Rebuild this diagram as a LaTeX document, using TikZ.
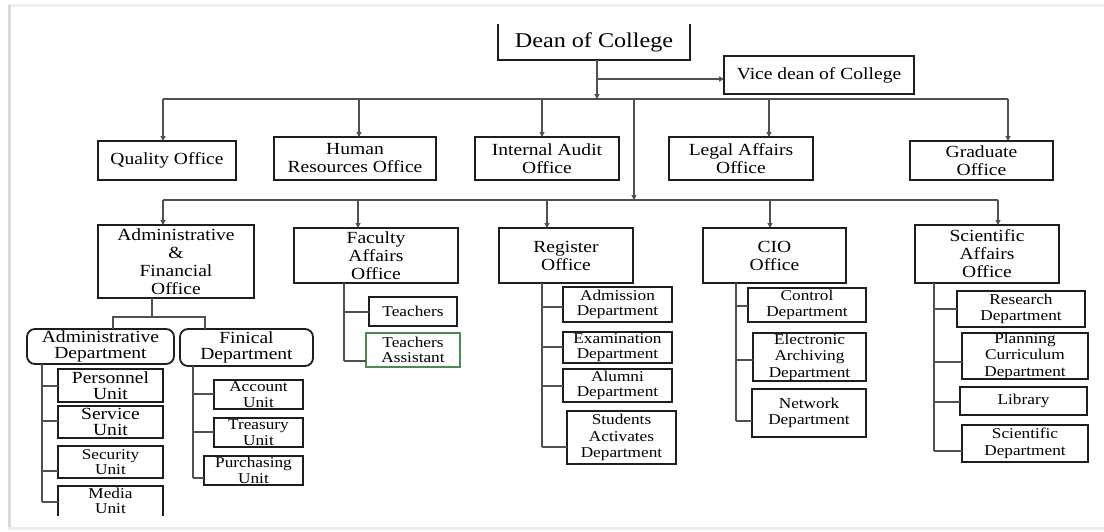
\documentclass[tikz,border=0pt]{standalone}
\usepackage{fontspec}
\setmainfont{Liberation Serif}[FakeStretch=1.15]
\usetikzlibrary{arrows.meta}
\definecolor{tagreen}{HTML}{4E8A4E}
\definecolor{boxline}{HTML}{1E1E1E}
\definecolor{connline}{HTML}{505050}
\newcommand\mybox[8][]{%
 \pgfmathsetmacro\bxcx{(#3+#5)/2}%
 \pgfmathsetmacro\bxcy{(#4+#6)/2}%
 \pgfmathsetmacro\bxw{#5-#3}%
 \pgfmathsetmacro\bxh{#6-#4}%
 \node[box,minimum width=\bxw pt,minimum height=\bxh pt,#1] (#2) at (\bxcx,\bxcy) {};%
 \node[#7] (#2-t) at (#2.center) {#8};}
\begin{document}
\begin{tikzpicture}[x=1pt,y=-1pt,
 box/.style={draw=boxline,line width=1.8pt,inner sep=0pt,outer sep=0pt},
 rbox/.style={rounded corners=8pt},
 tabox/.style={draw=tagreen,line width=1.3pt},
 tD/.style={align=center,inner sep=0pt,font={\fontsize{21}{22}\selectfont}},
 tB/.style={align=center,inner sep=0pt,font={\fontsize{17}{18}\selectfont}},
 tBs/.style={align=center,inner sep=0pt,font={\fontsize{17}{15.5}\selectfont}},
 tS/.style={align=center,inner sep=0pt,font={\fontsize{15}{15.5}\selectfont}},
 tS3/.style={align=center,inner sep=0pt,font={\fontsize{15}{16.5}\selectfont}},
 conn/.style={draw=connline,line width=1.1pt},
 arr/.style={conn,-{Triangle[length=5pt,width=5pt]}}]
\useasboundingbox (0,0) rectangle (1104,531);
% page frame
\fill[gray!12] (8,4) rectangle (1104,7);
\fill[gray!30] (8,5) rectangle (11,529);
\fill[gray!15] (8,527) rectangle (1104,530);
% top level
\mybox[draw=none]{dean}{498}{25}{690}{60}{tD}{Dean of College}
\draw[box,line cap=rect] (dean.north west) -- (dean.south west) -- (dean.south east) -- (dean.north east);
\mybox{vice}{724}{56}{914}{94}{tB}{Vice dean of College}
\mybox{quality}{98}{141}{236}{180}{tB}{Quality Office}
\mybox{hr}{274}{137}{436}{180}{tB}{Human\\Resources Office}
\mybox{audit}{475}{137}{619}{180}{tB}{Internal Audit\\Office}
\mybox{legal}{669}{137}{813}{180}{tB}{Legal Affairs\\Office}
\mybox{grad}{910}{141}{1053}{180}{tB}{Graduate\\Office}
% second level
\mybox{adm}{98}{225}{254}{298}{tB}{Administrative\\\&\\Financial\\Office}
\mybox{fac}{294}{228}{458}{283}{tB}{Faculty\\Affairs\\Office}
\mybox{reg}{499}{228}{633}{283}{tB}{Register\\Office}
\mybox{cio}{703}{228}{846}{283}{tB}{CIO\\Office}
\mybox{sci}{915}{225}{1059}{283}{tB}{Scientific\\Affairs\\Office}
% admin & financial sub
\mybox[rbox]{admd}{27}{329}{174}{364}{tBs}{Administrative\\Department}
\mybox[rbox]{find}{180}{329}{313}{366}{tBs}{Finical\\Department}
\mybox{pers}{58}{369}{163}{402}{tBs}{Personnel\\Unit}
\mybox{serv}{58}{406}{163}{438}{tBs}{Service\\Unit}
\mybox{secu}{58}{446}{163}{478}{tS}{Security\\Unit}
\mybox[draw=none]{media}{58}{486}{163}{516}{tS}{Media\\Unit}
\draw[box] (media.south west) -- (media.north west) -- (media.north east) -- (media.south east);
\mybox{acct}{214}{380}{303}{409}{tS}{Account\\Unit}
\mybox{trea}{214}{418}{303}{447}{tS}{Treasury\\Unit}
\mybox{purc}{204}{456}{303}{485}{tS}{Purchasing\\Unit}
% faculty sub
\mybox{teach}{369}{297}{457}{326}{tS}{Teachers}
\mybox[tabox]{ta}{366}{333}{460}{367}{tS}{Teachers\\Assistant}
% register sub
\mybox{adms}{563}{287}{672}{322}{tS}{Admission\\Department}
\mybox{exam}{563}{332}{672}{363}{tS}{Examination\\Department}
\mybox{alum}{563}{369}{672}{402}{tS}{Alumni\\Department}
\mybox{stud}{567}{411}{676}{464}{tS3}{Students\\Activates\\Department}
% cio sub
\mybox{ctrl}{748}{288}{866}{322}{tS}{Control\\Department}
\mybox{earc}{753}{333}{866}{381}{tS3}{Electronic\\Archiving\\Department}
\mybox{netw}{752}{389}{866}{437}{tS3}{Network\\Department}
% scientific sub
\mybox{rsch}{957}{291}{1085}{327}{tS}{Research\\Department}
\mybox{plan}{962}{333}{1088}{379}{tS3}{Planning\\Curriculum\\Department}
\mybox{libr}{960}{387}{1087}{415}{tS}{Library}
\mybox{scid}{962}{425}{1088}{462}{tS3}{Scientific\\Department}
% ---- connectors, top
\coordinate (jd) at (597,99);
\coordinate (jv) at (597,79);
\draw[arr] (jd |- dean.south) -- (jd);
\draw[arr] (jv) -- (jv -| vice.west);
\coordinate (b1L) at (163,99);
\coordinate (b1R) at (1008,99);
\draw[conn] (b1L) -- (b1R);
\coordinate (jq) at (163,99);
\coordinate (jh) at (359,99);
\coordinate (ja) at (542,99);
\coordinate (jl) at (769,99);
\coordinate (jg) at (1008,99);
\draw[arr] (jq) -- (jq |- quality.north);
\draw[arr] (jh) -- (jh |- hr.north);
\draw[arr] (ja) -- (ja |- audit.north);
\draw[arr] (jl) -- (jl |- legal.north);
\draw[arr] (jg) -- (jg |- grad.north);
\coordinate (jm) at (634,99);
\coordinate (jm2) at (634,200);
\draw[arr] (jm) -- (jm2);
% lower bus
\coordinate (b2L) at (163,200);
\coordinate (b2R) at (998,200);
\draw[conn] (b2L) -- (b2R);
\coordinate (k1) at (163,200);
\coordinate (k2) at (358,200);
\coordinate (k3) at (547,200);
\coordinate (k4) at (770,200);
\coordinate (k5) at (998,200);
\draw[arr] (k1) -- (k1 |- adm.north);
\draw[arr] (k2) -- (k2 |- fac.north);
\draw[arr] (k3) -- (k3 |- reg.north);
\draw[arr] (k4) -- (k4 |- cio.north);
\draw[arr] (k5) -- (k5 |- sci.north);
% admin split
\coordinate (as) at (152,317);
\coordinate (asl) at (113,317);
\coordinate (asr) at (205,317);
\draw[conn] (as |- adm.south) -- (as);
\draw[conn] (asl |- admd.north) -- (asl) -- (asr) -- (asr |- find.north);
% trunks
\draw[conn] (admd.south -| 42,0) -- (42,502);
\foreach \c/\yy in {pers/386,serv/421,secu/471,media/502}
  \draw[conn] (42,\yy) -- (\c.west |- 0,\yy);
\draw[conn] (find.south -| 193,0) -- (193,478);
\foreach \c/\yy in {acct/394,trea/432,purc/478}
  \draw[conn] (193,\yy) -- (\c.west |- 0,\yy);
\draw[conn] (fac.south -| 344,0) -- (344,361);
\foreach \c/\yy in {teach/312,ta/361}
  \draw[conn] (344,\yy) -- (\c.west |- 0,\yy);
\draw[conn] (reg.south -| 542,0) -- (542,447);
\foreach \c/\yy in {adms/307,exam/347,alum/386,stud/447}
  \draw[conn] (542,\yy) -- (\c.west |- 0,\yy);
\draw[conn] (cio.south -| 736,0) -- (736,421);
\foreach \c/\yy in {ctrl/306,earc/360,netw/421}
  \draw[conn] (736,\yy) -- (\c.west |- 0,\yy);
\draw[conn] (sci.south -| 934,0) -- (934,451);
\foreach \c/\yy in {rsch/309,plan/362,libr/402,scid/451}
  \draw[conn] (934,\yy) -- (\c.west |- 0,\yy);
\end{tikzpicture}
\end{document}
